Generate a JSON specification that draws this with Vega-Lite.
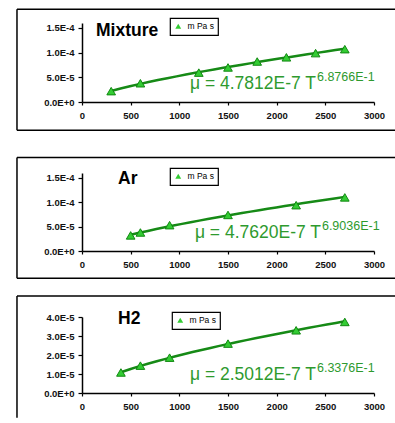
{
  "$schema": "https://vega.github.io/schema/vega-lite/v6.json",
  "autosize": "pad",
  "padding": {"left": 16, "top": 8, "right": 0, "bottom": 0},
  "background": "white",
  "bounds": "flush",
  "spacing": 71,
  "config": {
    "view": {"stroke": null},
    "font": "Liberation Sans",
    "axis": {
      "grid": false,
      "title": null,
      "domainColor": "black",
      "domainWidth": 1.5,
      "tickColor": "black",
      "tickWidth": 1.2,
      "labelColor": "#111111",
      "labelFont": "Liberation Sans",
      "labelFontSize": 9.5,
      "labelFontWeight": "bold"
    },
    "axisX": {"tickSize": 3, "labelPadding": 5, "values": [0, 500, 1000, 1500, 2000, 2500, 3000], "format": "d", "labelFlush": false},
    "axisY": {"tickSize": 4, "labelPadding": 4, "tickCount": 4, "labelExpr": "replace(replace(format(datum.value, '.1e'), 'e', 'E'), '\u2212', '-')"},
    "legend": {
      "title": null,
      "orient": "none",
      "strokeColor": "black",
      "strokeWidth": 1.2,
      "fillColor": "white",
      "padding": 4,
      "labelFontSize": 8.5,
      "labelFont": "Liberation Sans",
      "labelColor": "black",
      "symbolSize": 35,
      "symbolFillColor": "#22bb22",
      "symbolStrokeColor": "#118811",
      "symbolStrokeWidth": 0.5,
      "labelOffset": 5
    }
  },
  "datasets": {
    "mixture": [
      {"T": 300, "mu": 2.2e-5, "s": "m Pa s"},
      {"T": 600, "mu": 3.8e-5, "s": "m Pa s"},
      {"T": 1200, "mu": 5.95e-5, "s": "m Pa s"},
      {"T": 1500, "mu": 7.0e-5, "s": "m Pa s"},
      {"T": 1800, "mu": 8.2e-5, "s": "m Pa s"},
      {"T": 2100, "mu": 9.05e-5, "s": "m Pa s"},
      {"T": 2400, "mu": 9.9e-5, "s": "m Pa s"},
      {"T": 2700, "mu": 1.07e-4, "s": "m Pa s"}
    ],
    "ar": [
      {"T": 500, "mu": 3.2e-5, "s": "m Pa s"},
      {"T": 600, "mu": 3.8e-5, "s": "m Pa s"},
      {"T": 900, "mu": 5.3e-5, "s": "m Pa s"},
      {"T": 1500, "mu": 7.4e-5, "s": "m Pa s"},
      {"T": 2200, "mu": 9.4e-5, "s": "m Pa s"},
      {"T": 2700, "mu": 1.1e-4, "s": "m Pa s"}
    ],
    "h2": [
      {"T": 400, "mu": 1.08e-5, "s": "m Pa s"},
      {"T": 600, "mu": 1.44e-5, "s": "m Pa s"},
      {"T": 900, "mu": 1.86e-5, "s": "m Pa s"},
      {"T": 1500, "mu": 2.6e-5, "s": "m Pa s"},
      {"T": 2200, "mu": 3.3e-5, "s": "m Pa s"},
      {"T": 2700, "mu": 3.74e-5, "s": "m Pa s"}
    ],
    "one": [{}]
  },
  "vconcat": [
    {
      "width": 292,
      "height": 79,
      "layer": [
        {"data": {"name": "mixture"}, "transform": [{"regression": "mu", "on": "T", "method": "pow"}],
         "mark": {"type": "line", "color": "#168a16", "strokeWidth": 2.5},
         "encoding": {"x": {"field": "T", "type": "quantitative", "scale": {"domain": [0, 3000]}}, "y": {"field": "mu", "type": "quantitative", "scale": {"domain": [0, 1.5e-4]}}}},
        {"data": {"name": "one"}, "mark": {"type": "rule", "clip": false, "color": "black", "strokeWidth": 1.5},
         "encoding": {"x": {"datum": -668, "type": "quantitative"}, "x2": {"datum": 3220}, "y": {"datum": 1.88e-4, "type": "quantitative"}}},
        {"data": {"name": "one"}, "mark": {"type": "rule", "clip": false, "color": "black", "strokeWidth": 1.5},
         "encoding": {"x": {"datum": -668, "type": "quantitative"}, "x2": {"datum": 3220}, "y": {"datum": -5.7e-5, "type": "quantitative"}}},
        {"data": {"name": "one"}, "mark": {"type": "rule", "clip": false, "color": "black", "strokeWidth": 1.5},
         "encoding": {"x": {"datum": -668, "type": "quantitative"}, "y": {"datum": -5.7e-5, "type": "quantitative"}, "y2": {"datum": 1.88e-4}}},
        {"data": {"name": "mixture"},
         "mark": {"type": "point", "filled": true, "fill": "#33cc33", "stroke": "#118811", "strokeWidth": 1, "size": 75, "opacity": 1},
         "encoding": {"x": {"field": "T", "type": "quantitative"}, "y": {"field": "mu", "type": "quantitative"},
           "shape": {"field": "s", "type": "nominal", "scale": {"range": ["triangle-up"]}, "legend": {"legendX": 88, "legendY": -5}}}},
        {"data": {"name": "one"}, "mark": {"type": "text", "align": "left", "baseline": "alphabetic", "font": "Liberation Sans", "fontWeight": "bold", "fontSize": 17.5, "color": "black"},
         "encoding": {"x": {"datum": 144, "type": "quantitative"}, "y": {"datum": 1.33e-4, "type": "quantitative"}, "text": {"value": "Mixture"}}},
        {"data": {"name": "one"}, "mark": {"type": "text", "align": "right", "baseline": "alphabetic", "font": "Liberation Sans", "fontSize": 17.5, "color": "#2e9a2e"},
         "encoding": {"x": {"datum": 2404, "type": "quantitative"}, "y": {"datum": 2.6e-5, "type": "quantitative"}, "text": {"value": "μ = 4.7812E-7 T"}}},
        {"data": {"name": "one"}, "mark": {"type": "text", "align": "left", "baseline": "alphabetic", "font": "Liberation Sans", "fontSize": 12.5, "color": "#2e9a2e"},
         "encoding": {"x": {"datum": 2414, "type": "quantitative"}, "y": {"datum": 4.2e-5, "type": "quantitative"}, "text": {"value": "6.8766E-1"}}}
      ]
    },
    {
      "bounds": "flush",
      "spacing": 66,
      "vconcat": [
        {
          "width": 292,
          "height": 78,
          "layer": [
            {"data": {"name": "ar"}, "transform": [{"regression": "mu", "on": "T", "method": "pow"}],
             "mark": {"type": "line", "color": "#168a16", "strokeWidth": 2.5},
             "encoding": {"x": {"field": "T", "type": "quantitative", "scale": {"domain": [0, 3000]}}, "y": {"field": "mu", "type": "quantitative", "scale": {"domain": [0, 1.5e-4]}}}},
            {"data": {"name": "one"}, "mark": {"type": "rule", "clip": false, "color": "black", "strokeWidth": 1.5},
             "encoding": {"x": {"datum": -668, "type": "quantitative"}, "x2": {"datum": 3220}, "y": {"datum": 1.92e-4, "type": "quantitative"}}},
            {"data": {"name": "one"}, "mark": {"type": "rule", "clip": false, "color": "black", "strokeWidth": 1.5},
             "encoding": {"x": {"datum": -668, "type": "quantitative"}, "x2": {"datum": 3220}, "y": {"datum": -5.58e-5, "type": "quantitative"}}},
            {"data": {"name": "one"}, "mark": {"type": "rule", "clip": false, "color": "black", "strokeWidth": 1.5},
             "encoding": {"x": {"datum": -668, "type": "quantitative"}, "y": {"datum": -5.58e-5, "type": "quantitative"}, "y2": {"datum": 1.92e-4}}},
            {"data": {"name": "ar"},
             "mark": {"type": "point", "filled": true, "fill": "#33cc33", "stroke": "#118811", "strokeWidth": 1, "size": 75, "opacity": 1},
             "encoding": {"x": {"field": "T", "type": "quantitative"}, "y": {"field": "mu", "type": "quantitative"},
               "shape": {"field": "s", "type": "nominal", "scale": {"range": ["triangle-up"]}, "legend": {"legendX": 88, "legendY": -5}}}},
            {"data": {"name": "one"}, "mark": {"type": "text", "align": "left", "baseline": "alphabetic", "font": "Liberation Sans", "fontWeight": "bold", "fontSize": 17.5, "color": "black"},
             "encoding": {"x": {"datum": 370, "type": "quantitative"}, "y": {"datum": 1.365e-4, "type": "quantitative"}, "text": {"value": "Ar"}}},
            {"data": {"name": "one"}, "mark": {"type": "text", "align": "right", "baseline": "alphabetic", "font": "Liberation Sans", "fontSize": 17.5, "color": "#2e9a2e"},
             "encoding": {"x": {"datum": 2455, "type": "quantitative"}, "y": {"datum": 2.75e-5, "type": "quantitative"}, "text": {"value": "μ = 4.7620E-7 T"}}},
            {"data": {"name": "one"}, "mark": {"type": "text", "align": "left", "baseline": "alphabetic", "font": "Liberation Sans", "fontSize": 12.5, "color": "#2e9a2e"},
             "encoding": {"x": {"datum": 2465, "type": "quantitative"}, "y": {"datum": 4.23e-5, "type": "quantitative"}, "text": {"value": "6.9036E-1"}}}
          ]
        },
        {
          "width": 292,
          "height": 76,
          "layer": [
            {"data": {"name": "h2"}, "transform": [{"regression": "mu", "on": "T", "method": "pow"}],
             "mark": {"type": "line", "color": "#168a16", "strokeWidth": 2.5},
             "encoding": {"x": {"field": "T", "type": "quantitative", "scale": {"domain": [0, 3000]}}, "y": {"field": "mu", "type": "quantitative", "scale": {"domain": [0, 4e-5]}}}},
            {"data": {"name": "one"}, "mark": {"type": "rule", "clip": false, "color": "black", "strokeWidth": 1.5},
             "encoding": {"x": {"datum": -668, "type": "quantitative"}, "x2": {"datum": 3220}, "y": {"datum": 5.1e-5, "type": "quantitative"}}},
            {"data": {"name": "one"}, "mark": {"type": "rule", "clip": false, "color": "black", "strokeWidth": 1.5},
             "encoding": {"x": {"datum": -668, "type": "quantitative"}, "y": {"datum": -1.3e-5, "type": "quantitative"}, "y2": {"datum": 5.1e-5}}},
            {"data": {"name": "h2"},
             "mark": {"type": "point", "filled": true, "fill": "#33cc33", "stroke": "#118811", "strokeWidth": 1, "size": 75, "opacity": 1},
             "encoding": {"x": {"field": "T", "type": "quantitative"}, "y": {"field": "mu", "type": "quantitative"},
               "shape": {"field": "s", "type": "nominal", "scale": {"range": ["triangle-up"]}, "legend": {"legendX": 90, "legendY": -5}}}},
            {"data": {"name": "one"}, "mark": {"type": "text", "align": "left", "baseline": "alphabetic", "font": "Liberation Sans", "fontWeight": "bold", "fontSize": 17.5, "color": "black"},
             "encoding": {"x": {"datum": 370, "type": "quantitative"}, "y": {"datum": 3.63e-5, "type": "quantitative"}, "text": {"value": "H2"}}},
            {"data": {"name": "one"}, "mark": {"type": "text", "align": "right", "baseline": "alphabetic", "font": "Liberation Sans", "fontSize": 17.5, "color": "#2e9a2e"},
             "encoding": {"x": {"datum": 2404, "type": "quantitative"}, "y": {"datum": 6.84e-6, "type": "quantitative"}, "text": {"value": "μ = 2.5012E-7 T"}}},
            {"data": {"name": "one"}, "mark": {"type": "text", "align": "left", "baseline": "alphabetic", "font": "Liberation Sans", "fontSize": 12.5, "color": "#2e9a2e"},
             "encoding": {"x": {"datum": 2414, "type": "quantitative"}, "y": {"datum": 1.105e-5, "type": "quantitative"}, "text": {"value": "6.3376E-1"}}}
          ]
        }
      ],
      "resolve": {"scale": {"shape": "independent"}, "legend": {"shape": "independent"}}
    }
  ],
  "resolve": {"scale": {"shape": "independent"}, "legend": {"shape": "independent"}}
}
